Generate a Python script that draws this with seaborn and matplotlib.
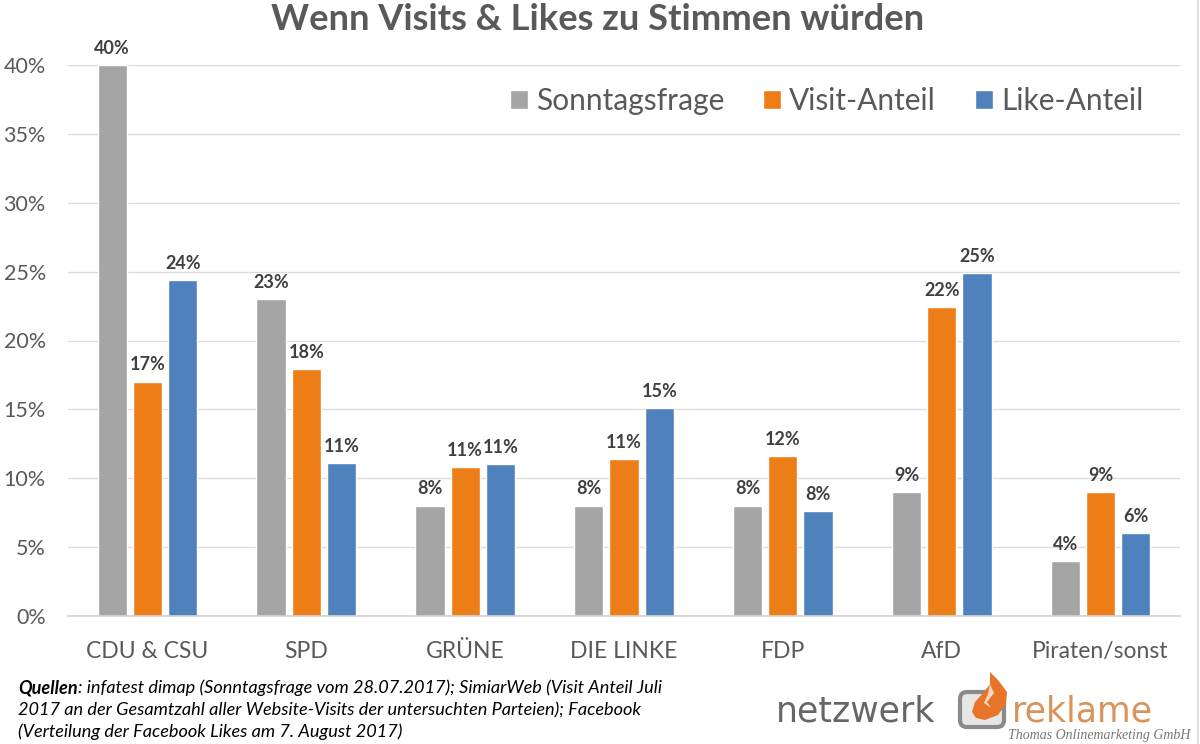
import matplotlib
matplotlib.use("Agg")
import matplotlib.pyplot as plt
from matplotlib.patches import FancyBboxPatch, Polygon, Rectangle
import pandas as pd
import seaborn as sns

parties = ["CDU & CSU", "SPD", "GRÜNE", "DIE LINKE", "FDP", "AfD", "Piraten/sonst"]
sonntagsfrage = [40, 23, 8, 8, 8, 9, 4]
visit_anteil = [17, 17.9, 10.8, 11.4, 11.6, 22.4, 9]
like_anteil = [24.4, 11.1, 11, 15.1, 7.6, 24.9, 6]
series_names = ["Sonntagsfrage", "Visit-Anteil", "Like-Anteil"]
series_colors = ["#a5a5a5", "#ed7d17", "#4f81bd"]
y_ticks = [0, 5, 10, 15, 20, 25, 30, 35, 40]

df = pd.DataFrame({"Partei": parties, series_names[0]: sonntagsfrage,
                   series_names[1]: visit_anteil, series_names[2]: like_anteil})
df = df.melt(id_vars="Partei", var_name="Reihe", value_name="Anteil")

sns.set_theme(style="white")
plt.rcParams["font.family"] = ["Lato", "DejaVu Sans"]

W, H = 1200, 744
fig = plt.figure(figsize=(W / 100, H / 100), dpi=100)
ax = fig.add_axes([68 / W, 1 - 616 / H, (1180 - 68) / W, (616 - 65) / H])

sns.barplot(data=df, x="Partei", y="Anteil", hue="Reihe", hue_order=series_names,
            palette=series_colors, width=0.666, gap=0.17, saturation=1, ax=ax)

ax.set_xlim(-0.5, 6.5)
ax.set_ylim(0, 40)
ax.set_yticks(y_ticks)
ax.set_yticklabels([f"{t}%" for t in y_ticks])
ax.set_xlabel("")
ax.set_ylabel("")
ax.set_axisbelow(True)
ax.grid(axis="y", color="#dcdcdc", linewidth=1)
sns.despine(ax=ax, left=True, right=True, top=True, bottom=False)
ax.spines["bottom"].set_color("#d0d0d0")
ax.tick_params(axis="y", length=0, pad=16, labelsize=15.5, labelcolor="#595959")
ax.tick_params(axis="x", length=0, pad=18, labelsize=16.5, labelcolor="#595959")

for cont in ax.containers:
    ax.bar_label(cont, fmt="%.0f%%", padding=6, fontsize=13, fontweight="bold",
                 color="#404040", clip_on=False)

handles, labels = ax.get_legend_handles_labels()
leg = ax.legend(handles, labels, loc="upper right", ncols=3, frameon=False,
                bbox_to_anchor=(0.991, 1.009), fontsize=21.5, labelcolor="#595959",
                handlelength=0.6, handleheight=0.6, handletextpad=0.27, columnspacing=1.3)

fig.text(597.5 / W, 1 - 20 / H, "Wenn Visits & Likes zu Stimmen würden", ha="center", va="center",
         fontsize=26.1, fontweight="bold", color="#595959")

# source note, the bold word sets where the rest of line one starts
fig.canvas.draw()
quellen = fig.text(18 / W, 1 - 688 / H, "Quellen", fontsize=13.1, fontweight="bold", style="italic",
                   color="black", va="center")
q_end = quellen.get_window_extent(fig.canvas.get_renderer()).x1
fig.text(q_end / W, 1 - 688 / H, ": infatest dimap (Sonntagsfrage vom 28.07.2017); SimiarWeb (Visit Anteil Juli",
         fontsize=13.1, style="italic", color="black", va="center")
fig.text(18 / W, 1 - 710 / H, "2017 an der Gesamtzahl aller Website-Visits der untersuchten Parteien); Facebook",
         fontsize=13.1, style="italic", color="black", va="center")
fig.text(18 / W, 1 - 732 / H, "(Verteilung der Facebook Likes am 7. August 2017)",
         fontsize=13.1, style="italic", color="black", va="center")

# logo, drawn in pixel coordinates of the figure
logo = fig.add_axes([0, 0, 1, 1], facecolor="none")
logo.set_xlim(0, W)
logo.set_ylim(H, 0)
logo.axis("off")
logo.text(776, 722, "netzwerk", fontsize=25, color="#666666", va="baseline", family="DejaVu Sans")
logo.text(1012, 722, "reklame", fontsize=25, color="#d9925a", va="baseline", family="DejaVu Sans")
logo.text(1190, 735, "Thomas Onlinemarketing GmbH", fontsize=10, color="#777777", ha="right",
          va="center", family="Liberation Serif", style="italic")
logo.add_patch(FancyBboxPatch((960, 692), 44, 35, boxstyle="round,pad=0,rounding_size=7",
                              fc="#e6e6e6", ec="#8a8a8a", lw=3))
logo.add_patch(Polygon([(972, 712), (975, 702), (984, 692), (990, 684), (990, 672),
                        (998, 680), (1007, 692), (1006, 704), (998, 715), (985, 720), (976, 718)],
                       closed=True, fc="#e8742a", ec="none"))
logo.add_patch(Polygon([(990, 684), (994, 693), (987, 702), (991, 708), (984, 703), (988, 694)],
                       closed=True, fc="#f8d9bd", ec="none"))
logo.add_patch(Rectangle((1197, 0), 1.5, H, fc="#dddddd", ec="none"))

fig.savefig("out.png", dpi=100, facecolor="white")
